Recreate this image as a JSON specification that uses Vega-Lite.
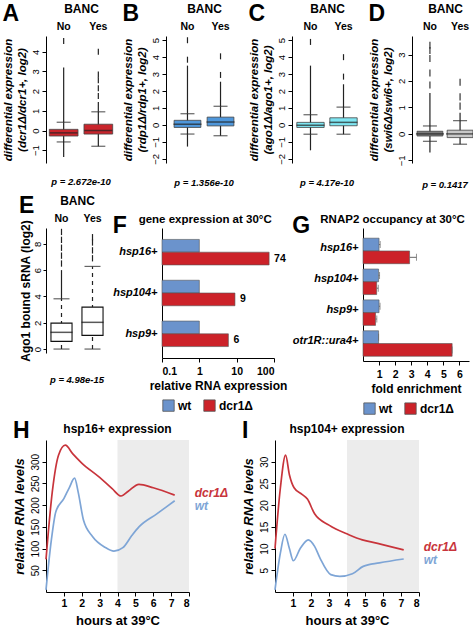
{
  "$schema": "https://vega.github.io/schema/vega-lite/v6.json",
  "padding": {"left": 2, "top": 2, "right": 0, "bottom": 0},
  "config": {
    "font": "Liberation Sans",
    "view": {"stroke": null},
    "axis": {"domainColor": "#000", "tickColor": "#000", "labelColor": "#000", "titleColor": "#000", "grid": false, "labelFontSize": 9.5, "titleFontSize": 12, "tickSize": 4, "labelPadding": 2},
    "title": {"color": "#000"}
  },
  "datasets": {
    "bx": [
      {"p": "A", "g": "No", "k": "box", "v": -0.28, "v2": 0.06},
      {"p": "A", "g": "No", "k": "med", "v": -0.12},
      {"p": "A", "g": "No", "k": "cap", "v": -0.58},
      {"p": "A", "g": "No", "k": "cap", "v": 0.42},
      {"p": "A", "g": "No", "k": "wh", "v": -0.58, "v2": 0.42},
      {"p": "A", "g": "No", "k": "seg", "v": 0.42, "v2": 3.2},
      {"p": "A", "g": "No", "k": "seg", "v": -1.35, "v2": -0.58},
      {"p": "A", "g": "No", "k": "out", "v": 4.55},
      {"p": "A", "g": "Yes", "k": "box", "v": -0.18, "v2": 0.32},
      {"p": "A", "g": "Yes", "k": "med", "v": 0.0},
      {"p": "A", "g": "Yes", "k": "cap", "v": -0.8},
      {"p": "A", "g": "Yes", "k": "cap", "v": 0.95},
      {"p": "A", "g": "Yes", "k": "wh", "v": -0.8, "v2": 0.95},
      {"p": "A", "g": "Yes", "k": "seg", "v": 0.95, "v2": 1.45},
      {"p": "A", "g": "Yes", "k": "out", "v": 1.75},
      {"p": "A", "g": "Yes", "k": "out", "v": 2.15},
      {"p": "A", "g": "Yes", "k": "out", "v": 2.55},
      {"p": "A", "g": "Yes", "k": "out", "v": 2.85},
      {"p": "A", "g": "Yes", "k": "out", "v": 4.0},
      {"p": "B", "g": "No", "k": "box", "v": -0.15, "v2": 0.27},
      {"p": "B", "g": "No", "k": "med", "v": 0.04},
      {"p": "B", "g": "No", "k": "cap", "v": -0.54},
      {"p": "B", "g": "No", "k": "cap", "v": 0.66},
      {"p": "B", "g": "No", "k": "wh", "v": -0.54, "v2": 0.66},
      {"p": "B", "g": "No", "k": "seg", "v": 0.66, "v2": 3.5},
      {"p": "B", "g": "No", "k": "seg", "v": -1.28, "v2": -0.54},
      {"p": "B", "g": "No", "k": "out", "v": 3.85},
      {"p": "B", "g": "No", "k": "out", "v": 5.0},
      {"p": "B", "g": "Yes", "k": "box", "v": -0.06, "v2": 0.46},
      {"p": "B", "g": "Yes", "k": "med", "v": 0.17},
      {"p": "B", "g": "Yes", "k": "cap", "v": -0.64},
      {"p": "B", "g": "Yes", "k": "cap", "v": 1.1},
      {"p": "B", "g": "Yes", "k": "wh", "v": -0.64, "v2": 1.1},
      {"p": "B", "g": "Yes", "k": "seg", "v": 1.1, "v2": 2.55},
      {"p": "B", "g": "Yes", "k": "out", "v": 2.95},
      {"p": "B", "g": "Yes", "k": "out", "v": 4.05},
      {"p": "C", "g": "No", "k": "box", "v": -0.15, "v2": 0.15},
      {"p": "C", "g": "No", "k": "med", "v": -0.02},
      {"p": "C", "g": "No", "k": "cap", "v": -0.55},
      {"p": "C", "g": "No", "k": "cap", "v": 0.6},
      {"p": "C", "g": "No", "k": "wh", "v": -0.55, "v2": 0.6},
      {"p": "C", "g": "No", "k": "seg", "v": 0.6, "v2": 3.5},
      {"p": "C", "g": "No", "k": "seg", "v": -1.5, "v2": -0.55},
      {"p": "C", "g": "No", "k": "out", "v": 4.9},
      {"p": "C", "g": "Yes", "k": "box", "v": -0.05, "v2": 0.42},
      {"p": "C", "g": "Yes", "k": "med", "v": 0.15},
      {"p": "C", "g": "Yes", "k": "cap", "v": -0.55},
      {"p": "C", "g": "Yes", "k": "cap", "v": 1.05},
      {"p": "C", "g": "Yes", "k": "wh", "v": -0.55, "v2": 1.05},
      {"p": "C", "g": "Yes", "k": "seg", "v": 1.05, "v2": 2.4},
      {"p": "C", "g": "Yes", "k": "out", "v": 2.85},
      {"p": "C", "g": "Yes", "k": "out", "v": 4.0},
      {"p": "D", "g": "No", "k": "box", "v": -0.08, "v2": 0.1},
      {"p": "D", "g": "No", "k": "med", "v": 0.0},
      {"p": "D", "g": "No", "k": "cap", "v": -0.28},
      {"p": "D", "g": "No", "k": "cap", "v": 0.3},
      {"p": "D", "g": "No", "k": "wh", "v": -0.28, "v2": 0.3},
      {"p": "D", "g": "No", "k": "seg", "v": 0.3, "v2": 1.55},
      {"p": "D", "g": "No", "k": "seg", "v": -0.7, "v2": -0.28},
      {"p": "D", "g": "No", "k": "out", "v": 1.85},
      {"p": "D", "g": "No", "k": "out", "v": 2.3},
      {"p": "D", "g": "No", "k": "out", "v": 2.85},
      {"p": "D", "g": "No", "k": "out", "v": 3.15},
      {"p": "D", "g": "No", "k": "out", "v": 3.35},
      {"p": "D", "g": "Yes", "k": "box", "v": -0.14, "v2": 0.14},
      {"p": "D", "g": "Yes", "k": "med", "v": 0.0},
      {"p": "D", "g": "Yes", "k": "cap", "v": -0.39},
      {"p": "D", "g": "Yes", "k": "cap", "v": 0.5},
      {"p": "D", "g": "Yes", "k": "wh", "v": -0.39, "v2": 0.5},
      {"p": "D", "g": "Yes", "k": "seg", "v": 0.5, "v2": 0.8},
      {"p": "D", "g": "Yes", "k": "out", "v": 1.05},
      {"p": "D", "g": "Yes", "k": "out", "v": 1.4},
      {"p": "D", "g": "Yes", "k": "out", "v": 1.95},
      {"p": "E", "g": "No", "k": "box", "v": 0.58, "v2": 1.97},
      {"p": "E", "g": "No", "k": "med", "v": 1.27},
      {"p": "E", "g": "No", "k": "cap", "v": 0},
      {"p": "E", "g": "No", "k": "cap", "v": 3.82},
      {"p": "E", "g": "No", "k": "wh", "v": 0, "v2": 3.82},
      {"p": "E", "g": "No", "k": "seg", "v": 3.82, "v2": 6.0},
      {"p": "E", "g": "No", "k": "out", "v": 6.5},
      {"p": "E", "g": "No", "k": "out", "v": 7.1},
      {"p": "E", "g": "No", "k": "out", "v": 7.7},
      {"p": "E", "g": "No", "k": "out", "v": 8.3},
      {"p": "E", "g": "No", "k": "out", "v": 8.9},
      {"p": "E", "g": "Yes", "k": "box", "v": 1.04, "v2": 3.19},
      {"p": "E", "g": "Yes", "k": "med", "v": 2.03},
      {"p": "E", "g": "Yes", "k": "cap", "v": 0},
      {"p": "E", "g": "Yes", "k": "cap", "v": 6.28},
      {"p": "E", "g": "Yes", "k": "wh", "v": 0, "v2": 6.28},
      {"p": "E", "g": "Yes", "k": "out", "v": 6.9},
      {"p": "E", "g": "Yes", "k": "out", "v": 7.5},
      {"p": "E", "g": "Yes", "k": "out", "v": 8.1},
      {"p": "E", "g": "Yes", "k": "out", "v": 8.5}
    ],
    "fx": [
      {"gene": "hsp16+", "strain": "wt", "val": 1},
      {"gene": "hsp16+", "strain": "dcr1Δ", "val": 74},
      {"gene": "hsp104+", "strain": "wt", "val": 1},
      {"gene": "hsp104+", "strain": "dcr1Δ", "val": 9},
      {"gene": "hsp9+", "strain": "wt", "val": 1},
      {"gene": "hsp9+", "strain": "dcr1Δ", "val": 6}
    ],
    "gx": [
      {"gene": "hsp16+", "strain": "wt", "val": 1.0, "hi": 1.07},
      {"gene": "hsp16+", "strain": "dcr1Δ", "val": 2.9, "hi": 3.33},
      {"gene": "hsp104+", "strain": "wt", "val": 0.97, "hi": 1.03},
      {"gene": "hsp104+", "strain": "dcr1Δ", "val": 0.85, "hi": 0.95},
      {"gene": "hsp9+", "strain": "wt", "val": 1.0, "hi": 1.06},
      {"gene": "hsp9+", "strain": "dcr1Δ", "val": 0.78, "hi": 0.86},
      {"gene": "otr1R::ura4+", "strain": "wt", "val": 0.97, "hi": 0.97},
      {"gene": "otr1R::ura4+", "strain": "dcr1Δ", "val": 5.55, "hi": 5.55}
    ],
    "lines": [
      {"gene": "hsp16", "s": "dcr1Δ", "t": 0, "y": 75},
      {"gene": "hsp16", "s": "dcr1Δ", "t": 0.35, "y": 230},
      {"gene": "hsp16", "s": "dcr1Δ", "t": 0.7, "y": 315},
      {"gene": "hsp16", "s": "dcr1Δ", "t": 1.08, "y": 338},
      {"gene": "hsp16", "s": "dcr1Δ", "t": 1.5, "y": 318},
      {"gene": "hsp16", "s": "dcr1Δ", "t": 2.0, "y": 297},
      {"gene": "hsp16", "s": "dcr1Δ", "t": 3.0, "y": 264},
      {"gene": "hsp16", "s": "dcr1Δ", "t": 3.7, "y": 238},
      {"gene": "hsp16", "s": "dcr1Δ", "t": 4.2, "y": 221},
      {"gene": "hsp16", "s": "dcr1Δ", "t": 4.6, "y": 232},
      {"gene": "hsp16", "s": "dcr1Δ", "t": 5.2, "y": 248},
      {"gene": "hsp16", "s": "dcr1Δ", "t": 6.0, "y": 240},
      {"gene": "hsp16", "s": "dcr1Δ", "t": 7.2, "y": 223},
      {"gene": "hsp16", "s": "wt", "t": 0, "y": 5},
      {"gene": "hsp16", "s": "wt", "t": 0.3, "y": 120},
      {"gene": "hsp16", "s": "wt", "t": 0.55, "y": 185},
      {"gene": "hsp16", "s": "wt", "t": 1.0, "y": 215},
      {"gene": "hsp16", "s": "wt", "t": 1.3, "y": 240},
      {"gene": "hsp16", "s": "wt", "t": 1.6, "y": 262},
      {"gene": "hsp16", "s": "wt", "t": 1.8, "y": 230},
      {"gene": "hsp16", "s": "wt", "t": 2.1, "y": 165},
      {"gene": "hsp16", "s": "wt", "t": 2.6, "y": 128},
      {"gene": "hsp16", "s": "wt", "t": 3.3, "y": 103},
      {"gene": "hsp16", "s": "wt", "t": 3.8, "y": 94},
      {"gene": "hsp16", "s": "wt", "t": 4.3, "y": 102},
      {"gene": "hsp16", "s": "wt", "t": 4.8, "y": 130},
      {"gene": "hsp16", "s": "wt", "t": 5.2, "y": 150},
      {"gene": "hsp16", "s": "wt", "t": 6.2, "y": 180},
      {"gene": "hsp16", "s": "wt", "t": 7.2, "y": 210},
      {"gene": "hsp104", "s": "dcr1Δ", "t": 0, "y": 10},
      {"gene": "hsp104", "s": "dcr1Δ", "t": 0.3, "y": 24},
      {"gene": "hsp104", "s": "dcr1Δ", "t": 0.59, "y": 31.5},
      {"gene": "hsp104", "s": "dcr1Δ", "t": 0.8, "y": 27},
      {"gene": "hsp104", "s": "dcr1Δ", "t": 1.06, "y": 24},
      {"gene": "hsp104", "s": "dcr1Δ", "t": 1.5, "y": 22.5},
      {"gene": "hsp104", "s": "dcr1Δ", "t": 1.8, "y": 21.4},
      {"gene": "hsp104", "s": "dcr1Δ", "t": 2.2, "y": 18},
      {"gene": "hsp104", "s": "dcr1Δ", "t": 3.0, "y": 15.4},
      {"gene": "hsp104", "s": "dcr1Δ", "t": 4.1, "y": 13.2},
      {"gene": "hsp104", "s": "dcr1Δ", "t": 4.85, "y": 12},
      {"gene": "hsp104", "s": "dcr1Δ", "t": 5.7, "y": 11.2},
      {"gene": "hsp104", "s": "dcr1Δ", "t": 7.15, "y": 9.7},
      {"gene": "hsp104", "s": "wt", "t": 0, "y": 0.5},
      {"gene": "hsp104", "s": "wt", "t": 0.3, "y": 9},
      {"gene": "hsp104", "s": "wt", "t": 0.55, "y": 13.3},
      {"gene": "hsp104", "s": "wt", "t": 0.8, "y": 10},
      {"gene": "hsp104", "s": "wt", "t": 1.02, "y": 7.2},
      {"gene": "hsp104", "s": "wt", "t": 1.4, "y": 10},
      {"gene": "hsp104", "s": "wt", "t": 1.85, "y": 12},
      {"gene": "hsp104", "s": "wt", "t": 2.2, "y": 10.5},
      {"gene": "hsp104", "s": "wt", "t": 2.5, "y": 7.8},
      {"gene": "hsp104", "s": "wt", "t": 3.1, "y": 4.0},
      {"gene": "hsp104", "s": "wt", "t": 3.6, "y": 3.6},
      {"gene": "hsp104", "s": "wt", "t": 4.3, "y": 4.2},
      {"gene": "hsp104", "s": "wt", "t": 4.9, "y": 5.9},
      {"gene": "hsp104", "s": "wt", "t": 5.8, "y": 6.7},
      {"gene": "hsp104", "s": "wt", "t": 7.15, "y": 7.6}
    ],
    "lab": [
      {"gene": "hsp16", "s": "dcr1Δ", "t": 7.2, "y": 228},
      {"gene": "hsp16", "s": "wt", "t": 7.2, "y": 198},
      {"gene": "hsp104", "s": "dcr1Δ", "t": 7.15, "y": 10.3},
      {"gene": "hsp104", "s": "wt", "t": 7.15, "y": 7.3}
    ],
    "shade": [{"t": 4, "t2": 8}]
  },
  "spacing": 4,
  "resolve": {"scale": {"color": "independent"}},
  "vconcat": [
    {
      "spacing": 6,
      "hconcat": [
        {
          "title": {"text": "A", "anchor": "start", "fontSize": 23, "fontWeight": "bold", "offset": -24},
          "vconcat": [{
            "title": {"text": "p = 2.672e-10", "orient": "bottom", "anchor": "middle", "frame": "group", "fontSize": 9.5, "fontStyle": "italic", "fontWeight": "bold", "offset": 14},
            "width": 70, "height": 127,
            "data": {"name": "bx"},
            "transform": [{"filter": "datum.p == 'A'"}],
            "encoding": {
              "x": {"field": "g", "type": "nominal", "scale": {"paddingInner": 0.08, "paddingOuter": 0.05}, "axis": {"orient": "top", "title": "BANC", "labelAngle": 0, "ticks": false, "domain": false, "labelFontWeight": "bold", "labelFontSize": 10.5, "titleFontSize": 12, "titlePadding": 6, "labelPadding": 5}},
              "y": {"field": "v", "type": "quantitative", "scale": {"domain": [-1.65, 4.8], "nice": false, "zero": false}, "axis": {"values": [-1, 0, 1, 2, 3, 4], "labelAngle": -90, "title": ["differential expression", "(dcr1Δ/dcr1+, log2)"], "titleFontStyle": "italic", "titleFontSize": 11.5, "titlePadding": 3}}
            },
            "layer": [
              {"transform": [{"filter": "datum.k == 'seg' || datum.k == 'wh'"}], "mark": {"type": "rule", "color": "#222", "strokeWidth": 1.2}, "encoding": {"y2": {"field": "v2"}}},
              {"transform": [{"filter": "datum.k == 'out'"}], "mark": {"type": "point", "shape": "M0,-1L0,1", "size": 36, "stroke": "#222", "strokeWidth": 1.2, "filled": false, "opacity": 1}},
              {"transform": [{"filter": "datum.k == 'cap'"}], "mark": {"type": "tick", "color": "#222", "size": 14, "thickness": 1.2}},
              {"transform": [{"filter": "datum.k == 'box'"}], "mark": {"type": "bar", "fill": "#c9252c", "stroke": "#444", "strokeWidth": 0.8, "width": {"band": 0.9}}, "encoding": {"y2": {"field": "v2"}}},
              {"transform": [{"filter": "datum.k == 'med'"}], "mark": {"type": "tick", "color": "#222", "size": 28, "thickness": 1.5}}
            ]
          }]
        },
        {
          "title": {"text": "B", "anchor": "start", "fontSize": 23, "fontWeight": "bold", "offset": -24},
          "vconcat": [{
            "title": {"text": "p = 1.356e-10", "orient": "bottom", "anchor": "middle", "frame": "group", "fontSize": 9.5, "fontStyle": "italic", "fontWeight": "bold", "offset": 14},
            "width": 76, "height": 127,
            "data": {"name": "bx"},
            "transform": [{"filter": "datum.p == 'B'"}],
            "encoding": {
              "x": {"field": "g", "type": "nominal", "scale": {"paddingInner": 0.1, "paddingOuter": 0.2}, "axis": {"orient": "top", "title": "BANC", "labelAngle": 0, "ticks": false, "domain": false, "labelFontWeight": "bold", "labelFontSize": 10.5, "titleFontSize": 12, "titlePadding": 6, "labelPadding": 5}},
              "y": {"field": "v", "type": "quantitative", "scale": {"domain": [-2.25, 5.25], "nice": false, "zero": false}, "axis": {"values": [-2, -1, 0, 1, 2, 3, 4, 5], "labelAngle": -90, "title": ["differential expression", "(rdp1Δ/rdp1+, log2)"], "titleFontStyle": "italic", "titleFontSize": 11.5, "titlePadding": 3}}
            },
            "layer": [
              {"transform": [{"filter": "datum.k == 'seg' || datum.k == 'wh'"}], "mark": {"type": "rule", "color": "#222", "strokeWidth": 1.2}, "encoding": {"y2": {"field": "v2"}}},
              {"transform": [{"filter": "datum.k == 'out'"}], "mark": {"type": "point", "shape": "M0,-1L0,1", "size": 36, "stroke": "#222", "strokeWidth": 1.2, "filled": false, "opacity": 1}},
              {"transform": [{"filter": "datum.k == 'cap'"}], "mark": {"type": "tick", "color": "#222", "size": 14, "thickness": 1.2}},
              {"transform": [{"filter": "datum.k == 'box'"}], "mark": {"type": "bar", "fill": "#4f97db", "stroke": "#444", "strokeWidth": 0.8, "width": {"band": 0.9}}, "encoding": {"y2": {"field": "v2"}}},
              {"transform": [{"filter": "datum.k == 'med'"}], "mark": {"type": "tick", "color": "#222", "size": 28, "thickness": 1.5}}
            ]
          }]
        },
        {
          "title": {"text": "C", "anchor": "start", "fontSize": 23, "fontWeight": "bold", "offset": -24},
          "vconcat": [{
            "title": {"text": "p = 4.17e-10", "orient": "bottom", "anchor": "middle", "frame": "group", "fontSize": 9.5, "fontStyle": "italic", "fontWeight": "bold", "offset": 14},
            "width": 70, "height": 127,
            "data": {"name": "bx"},
            "transform": [{"filter": "datum.p == 'C'"}],
            "encoding": {
              "x": {"field": "g", "type": "nominal", "scale": {"paddingInner": 0.08, "paddingOuter": 0.1}, "axis": {"orient": "top", "title": "BANC", "labelAngle": 0, "ticks": false, "domain": false, "labelFontWeight": "bold", "labelFontSize": 10.5, "titleFontSize": 12, "titlePadding": 6, "labelPadding": 5}},
              "y": {"field": "v", "type": "quantitative", "scale": {"domain": [-2.25, 5.25], "nice": false, "zero": false}, "axis": {"values": [-2, -1, 0, 1, 2, 3, 4, 5], "labelAngle": -90, "title": ["differential expression", "(ago1Δ/ago1+, log2)"], "titleFontStyle": "italic", "titleFontSize": 11.5, "titlePadding": 3}}
            },
            "layer": [
              {"transform": [{"filter": "datum.k == 'seg' || datum.k == 'wh'"}], "mark": {"type": "rule", "color": "#222", "strokeWidth": 1.2}, "encoding": {"y2": {"field": "v2"}}},
              {"transform": [{"filter": "datum.k == 'out'"}], "mark": {"type": "point", "shape": "M0,-1L0,1", "size": 36, "stroke": "#222", "strokeWidth": 1.2, "filled": false, "opacity": 1}},
              {"transform": [{"filter": "datum.k == 'cap'"}], "mark": {"type": "tick", "color": "#222", "size": 14, "thickness": 1.2}},
              {"transform": [{"filter": "datum.k == 'box'"}], "mark": {"type": "bar", "fill": "#7fe6f2", "stroke": "#444", "strokeWidth": 0.8, "width": {"band": 0.9}}, "encoding": {"y2": {"field": "v2"}}},
              {"transform": [{"filter": "datum.k == 'med'"}], "mark": {"type": "tick", "color": "#222", "size": 28, "thickness": 1.5}}
            ]
          }]
        },
        {
          "title": {"text": "D", "anchor": "start", "fontSize": 23, "fontWeight": "bold", "offset": -24},
          "vconcat": [{
            "title": {"text": "p = 0.1417", "orient": "bottom", "anchor": "middle", "frame": "group", "fontSize": 9.5, "fontStyle": "italic", "fontWeight": "bold", "offset": 14},
            "width": 66, "height": 127,
            "data": {"name": "bx"},
            "transform": [{"filter": "datum.p == 'D'"}],
            "encoding": {
              "x": {"field": "g", "type": "nominal", "scale": {"paddingInner": 0.05, "paddingOuter": 0.12}, "axis": {"orient": "top", "title": "BANC", "labelAngle": 0, "ticks": false, "domain": false, "labelFontWeight": "bold", "labelFontSize": 10.5, "titleFontSize": 12, "titlePadding": 6, "labelPadding": 5}},
              "y": {"field": "v", "type": "quantitative", "scale": {"domain": [-1.1, 3.7], "nice": false, "zero": false}, "axis": {"values": [-1, 0, 1, 2, 3], "labelAngle": -90, "title": ["differential expression", "(swi6Δ/swi6+, log2)"], "titleFontStyle": "italic", "titleFontSize": 11.5, "titlePadding": 3}}
            },
            "layer": [
              {"transform": [{"filter": "datum.k == 'seg' || datum.k == 'wh'"}], "mark": {"type": "rule", "color": "#222", "strokeWidth": 1.2}, "encoding": {"y2": {"field": "v2"}}},
              {"transform": [{"filter": "datum.k == 'out'"}], "mark": {"type": "point", "shape": "M0,-1L0,1", "size": 50, "stroke": "#333", "strokeWidth": 1.2, "filled": false, "opacity": 1}},
              {"transform": [{"filter": "datum.k == 'cap'"}], "mark": {"type": "tick", "color": "#222", "size": 14, "thickness": 1.2}},
              {"transform": [{"filter": "datum.k == 'box'"}], "mark": {"type": "bar", "stroke": "#444", "strokeWidth": 0.8, "width": {"band": 0.9}}, "encoding": {"y2": {"field": "v2"}, "fill": {"condition": {"test": "datum.g == 'No'", "value": "#7c7c7c"}, "value": "#c8c8c8"}}},
              {"transform": [{"filter": "datum.k == 'med'"}], "mark": {"type": "tick", "color": "#222", "size": 28, "thickness": 1.5}}
            ]
          }]
        }
      ]
    },
    {
      "spacing": 4,
      "resolve": {"scale": {"color": "independent"}},
      "hconcat": [
        {
          "title": {"text": "E", "anchor": "start", "fontSize": 23, "fontWeight": "bold", "offset": -24},
          "vconcat": [{
            "title": {"text": "p = 4.98e-15", "orient": "bottom", "anchor": "middle", "frame": "group", "fontSize": 9.5, "fontStyle": "italic", "fontWeight": "bold", "offset": 14},
            "width": 62, "height": 125,
            "data": {"name": "bx"},
            "transform": [{"filter": "datum.p == 'E'"}],
            "encoding": {
              "x": {"field": "g", "type": "nominal", "scale": {"paddingInner": 0.2, "paddingOuter": 0.1}, "axis": {"orient": "top", "title": "BANC", "labelAngle": 0, "ticks": false, "domain": false, "labelFontWeight": "bold", "labelFontSize": 10.5, "titleFontSize": 12, "titlePadding": 6, "labelPadding": 5}},
              "y": {"field": "v", "type": "quantitative", "scale": {"domain": [-0.3, 9.2], "nice": false, "zero": false}, "axis": {"values": [0, 2, 4, 6, 8], "labelAngle": -90, "title": "Ago1 bound sRNA (log2)", "titleFontSize": 12, "titlePadding": 0, "tickSize": 3, "labelPadding": 1}}
            },
            "layer": [
              {"transform": [{"filter": "datum.k == 'wh'"}], "mark": {"type": "rule", "color": "#222", "strokeWidth": 1.2, "strokeDash": [4, 4]}, "encoding": {"y2": {"field": "v2"}}},
              {"transform": [{"filter": "datum.k == 'seg'"}], "mark": {"type": "rule", "color": "#222", "strokeWidth": 1.2}, "encoding": {"y2": {"field": "v2"}}},
              {"transform": [{"filter": "datum.k == 'out'"}], "mark": {"type": "point", "shape": "M0,-1L0,1", "size": 40, "stroke": "#222", "strokeWidth": 1.2, "filled": false, "opacity": 1}},
              {"transform": [{"filter": "datum.k == 'cap'"}], "mark": {"type": "tick", "color": "#222", "size": 16, "thickness": 1.2}},
              {"transform": [{"filter": "datum.k == 'box'"}], "mark": {"type": "bar", "fill": "#ffffff", "stroke": "#111", "strokeWidth": 1.1, "width": {"band": 0.85}}, "encoding": {"y2": {"field": "v2"}}},
              {"transform": [{"filter": "datum.k == 'med'"}], "mark": {"type": "tick", "color": "#111", "size": 22, "thickness": 1.5}}
            ]
          }]
        },
        {
          "title": {"text": "F", "anchor": "start", "fontSize": 23, "fontWeight": "bold", "offset": -24},
          "vconcat": [{
            "title": {"text": "gene expression at 30°C", "anchor": "start", "dx": 26, "fontSize": 11.5, "fontWeight": "bold", "offset": 3},
            "width": 112, "height": 130,
            "data": {"name": "fx"},
            "encoding": {
              "y": {"field": "gene", "type": "nominal", "sort": ["hsp16+", "hsp104+", "hsp9+"], "scale": {"paddingInner": 0.375, "paddingOuter": 0.28}, "axis": {"title": null, "ticks": false, "labelFontSize": 11, "labelFontWeight": "bold", "labelFontStyle": "italic", "labelPadding": 5}},
              "yOffset": {"field": "strain", "sort": ["wt", "dcr1Δ"]},
              "x": {"field": "val", "type": "quantitative", "scale": {"type": "log", "domain": [0.1, 100]}, "axis": {"values": [0.1, 1, 10, 100], "format": "~g", "title": "relative RNA expression", "labelFontWeight": "bold", "labelFontSize": 10.5, "titleFontSize": 12, "titlePadding": 4, "labelPadding": 4}}
            },
            "layer": [
              {"mark": {"type": "bar", "stroke": "#555", "strokeWidth": 0.6}, "encoding": {"x2": {"datum": 0.1}, "color": {"field": "strain", "scale": {"domain": ["wt", "dcr1Δ"], "range": ["#6b93cc", "#cc2229"]}, "legend": {"title": null, "orient": "bottom", "direction": "horizontal", "symbolType": "square", "symbolSize": 130, "symbolStrokeColor": "#555", "symbolStrokeWidth": 0.8, "labelFontSize": 12, "labelFontWeight": "bold", "labelColor": "#000", "offset": 7, "columnPadding": 10, "labelOffset": 3}}}},
              {"transform": [{"filter": "datum.strain == 'dcr1Δ'"}], "mark": {"type": "text", "align": "left", "dx": 5, "fontWeight": "bold", "fontSize": 10.5}, "encoding": {"text": {"field": "val"}}}
            ]
          }]
        },
        {
          "title": {"text": "G", "anchor": "start", "fontSize": 23, "fontWeight": "bold", "offset": -24},
          "vconcat": [{
            "title": {"text": "RNAP2  occupancy at 30°C", "anchor": "start", "dx": 28, "fontSize": 11.5, "fontWeight": "bold", "offset": 3},
            "width": 106, "height": 133,
            "data": {"name": "gx"},
            "encoding": {
              "y": {"field": "gene", "type": "nominal", "sort": ["hsp16+", "hsp104+", "hsp9+", "otr1R::ura4+"], "scale": {"paddingInner": 0.35, "paddingOuter": 0.33}, "axis": {"title": null, "ticks": false, "labelFontSize": 11, "labelFontWeight": "bold", "labelFontStyle": "italic", "labelPadding": 5}},
              "yOffset": {"field": "strain", "sort": ["wt", "dcr1Δ"]},
              "x": {"field": "val", "type": "quantitative", "scale": {"domain": [0, 6.6], "nice": false}, "axis": {"values": [1, 2, 3, 4, 5, 6], "labelOverlap": false, "labelFlush": false, "title": "fold enrichment", "labelFontWeight": "bold", "labelFontSize": 10.5, "titleFontSize": 12, "titlePadding": 4, "labelPadding": 4}}
            },
            "layer": [
              {"mark": {"type": "bar", "stroke": "#555", "strokeWidth": 0.6}, "encoding": {"color": {"field": "strain", "scale": {"domain": ["wt", "dcr1Δ"], "range": ["#6b93cc", "#cc2229"]}, "legend": {"title": null, "orient": "bottom", "direction": "horizontal", "symbolType": "square", "symbolSize": 130, "symbolStrokeColor": "#555", "symbolStrokeWidth": 0.8, "labelFontSize": 12, "labelFontWeight": "bold", "labelColor": "#000", "offset": 7, "columnPadding": 10, "labelOffset": 3}}}},
              {"mark": {"type": "rule", "color": "#666", "strokeWidth": 1}, "encoding": {"x2": {"field": "hi"}}},
              {"mark": {"type": "tick", "color": "#666", "size": 7, "thickness": 1}, "encoding": {"x": {"field": "hi", "type": "quantitative", "axis": {"values": [1, 2, 3, 4, 5, 6], "labelOverlap": false, "labelFlush": false, "title": "fold enrichment", "labelFontWeight": "bold", "labelFontSize": 10.5, "titleFontSize": 12, "titlePadding": 4, "labelPadding": 4}}}}
            ]
          }]
        }
      ]
    },
    {
      "spacing": 12,
      "hconcat": [
        {
          "title": {"text": "H", "anchor": "start", "fontSize": 23, "fontWeight": "bold", "offset": -20},
          "vconcat": [{
            "title": {"text": "hsp16+ expression", "anchor": "middle", "frame": "group", "fontSize": 12, "fontWeight": "bold", "offset": 4},
            "width": 143, "height": 152,
            "encoding": {"x": {"field": "t", "type": "quantitative", "scale": {"domain": [0, 8], "nice": false}, "axis": {"values": [1, 2, 3, 4, 5, 6, 7, 8], "title": "hours at 39°C", "labelFontWeight": "bold", "labelFontSize": 10.5, "titleFontSize": 13, "titlePadding": 6}}},
            "layer": [
              {"data": {"name": "shade"}, "mark": {"type": "rect", "color": "#ececec"}, "encoding": {"x2": {"field": "t2"}}},
              {"data": {"name": "lines"}, "transform": [{"filter": "datum.gene == 'hsp16'"}], "mark": {"type": "line", "interpolate": "monotone", "strokeWidth": 1.7}, "encoding": {"y": {"field": "y", "type": "quantitative", "scale": {"domain": [0, 350], "nice": false}, "axis": {"values": [50, 100, 150, 200, 250, 300], "labelAngle": -90, "title": "relative RNA levels", "titleFontStyle": "italic", "titleFontSize": 13, "labelFontSize": 10}}, "detail": {"field": "s"}, "color": {"condition": {"test": "datum.s == 'wt'", "value": "#7ea5d6"}, "value": "#c8343b"}}},
              {"data": {"name": "lab"}, "transform": [{"filter": "datum.gene == 'hsp16'"}], "mark": {"type": "text", "align": "left", "dx": 20, "fontSize": 12, "fontWeight": "bold", "fontStyle": "italic"}, "encoding": {"y": {"field": "y", "type": "quantitative", "scale": {"domain": [0, 350], "nice": false}, "axis": {"values": [50, 100, 150, 200, 250, 300], "labelAngle": -90, "title": "relative RNA levels", "titleFontStyle": "italic", "titleFontSize": 13, "labelFontSize": 10}}, "text": {"field": "s"}, "color": {"condition": {"test": "datum.s == 'wt'", "value": "#7ea5d6"}, "value": "#c8343b"}}}
            ]
          }]
        },
        {
          "title": {"text": "I", "anchor": "start", "fontSize": 23, "fontWeight": "bold", "offset": -20},
          "vconcat": [{
            "title": {"text": "hsp104+ expression", "anchor": "middle", "frame": "group", "fontSize": 12, "fontWeight": "bold", "offset": 4},
            "width": 144, "height": 152,
            "encoding": {"x": {"field": "t", "type": "quantitative", "scale": {"domain": [0, 8], "nice": false}, "axis": {"values": [1, 2, 3, 4, 5, 6, 7, 8], "title": "hours at 39°C", "labelFontWeight": "bold", "labelFontSize": 10.5, "titleFontSize": 13, "titlePadding": 6}}},
            "layer": [
              {"data": {"name": "shade"}, "mark": {"type": "rect", "color": "#ececec"}, "encoding": {"x2": {"field": "t2"}}},
              {"data": {"name": "lines"}, "transform": [{"filter": "datum.gene == 'hsp104'"}], "mark": {"type": "line", "interpolate": "monotone", "strokeWidth": 1.7}, "encoding": {"y": {"field": "y", "type": "quantitative", "scale": {"domain": [0, 35], "nice": false}, "axis": {"values": [5, 10, 15, 20, 25, 30], "labelAngle": -90, "title": "relative RNA levels", "titleFontStyle": "italic", "titleFontSize": 13, "labelFontSize": 10}}, "detail": {"field": "s"}, "color": {"condition": {"test": "datum.s == 'wt'", "value": "#7ea5d6"}, "value": "#c8343b"}}},
              {"data": {"name": "lab"}, "transform": [{"filter": "datum.gene == 'hsp104'"}], "mark": {"type": "text", "align": "left", "dx": 20, "fontSize": 12, "fontWeight": "bold", "fontStyle": "italic"}, "encoding": {"y": {"field": "y", "type": "quantitative", "scale": {"domain": [0, 35], "nice": false}, "axis": {"values": [5, 10, 15, 20, 25, 30], "labelAngle": -90, "title": "relative RNA levels", "titleFontStyle": "italic", "titleFontSize": 13, "labelFontSize": 10}}, "text": {"field": "s"}, "color": {"condition": {"test": "datum.s == 'wt'", "value": "#7ea5d6"}, "value": "#c8343b"}}}
            ]
          }]
        }
      ]
    }
  ]
}
